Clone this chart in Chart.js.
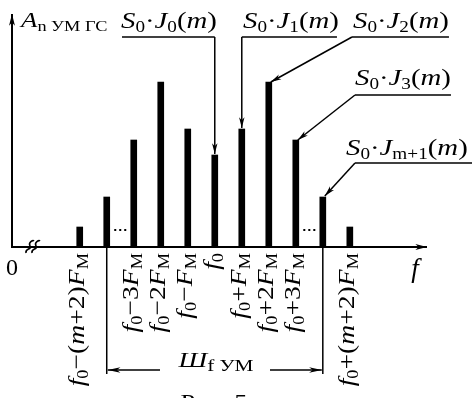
<!DOCTYPE html>
<html lang="ru">
<head>
  <meta charset="UTF-8">
  <title>Спектр УМ ГС</title>
  <style>
    html, body { margin:0; padding:0; background:#fff; }
    #chart { display:block; }
  </style>
</head>
<body>
  <canvas id="chart" width="472" height="398"></canvas>
  <script src="https://cdn.jsdelivr.net/npm/chart.js"></script>
  <script>
    // данные спектра (смещение в F_M и амплитуда в условных единицах)
    const offsets = [-5, -4, -3, -2, -1, 0, 1, 2, 3, 4, 5];
    const amplitudes = [20, 50, 107, 165, 118, 92, 118, 165, 107, 50, 20];
    const freqLabels = [
      [['f','i'],['0','s'],['−',''],['(',''],['m','i'],['+',''],['2',''],[')',''],['F','i'],['М','s']],
      null,
      [['f','i'],['0','s'],['−',''],['3',''],['F','i'],['М','s']],
      [['f','i'],['0','s'],['−',''],['2',''],['F','i'],['М','s']],
      [['f','i'],['0','s'],['−',''],['F','i'],['М','s']],
      [['f','i'],['0','s']],
      [['f','i'],['0','s'],['+',''],['F','i'],['М','s']],
      [['f','i'],['0','s'],['+',''],['2',''],['F','i'],['М','s']],
      [['f','i'],['0','s'],['+',''],['3',''],['F','i'],['М','s']],
      null,
      [['f','i'],['0','s'],['+',''],['(',''],['m','i'],['+',''],['2',''],[')',''],['F','i'],['М','s']]
    ];
    const besselNames = ['0', '1', '2', '3', 'm+1'];
    const FONT = '"Liberation Serif"';

    function sLabel(n) {
      return [['S','i'],['0','s'],['·',''],['J','i'],[n,'s'],['(',''],['m','i'],[')','']];
    }

    // рисует строку из кусков: i - курсив, s - нижний индекс; sx - растяжка по длине
    function drawRuns(ctx, parts, x, y, size, align, subSize, sx) {
      sx = sx || 1;
      let w = 0;
      const items = parts.map(([t, st]) => {
        const sub = st.includes('s');
        const fs = Math.round(sub ? (subSize || size * 0.66) : size);
        const font = (st.includes('i') ? 'italic ' : '') + fs + 'px ' + FONT;
        ctx.font = font;
        const tw = ctx.measureText(t).width;
        w += tw;
        return { t, font, tw, dy: sub ? size * 0.18 : 0 };
      });
      let cx = align === 'right' ? -w : align === 'center' ? -w / 2 : 0;
      ctx.save();
      ctx.translate(x, y);
      ctx.scale(sx, 1);
      items.forEach(it => { ctx.font = it.font; ctx.fillText(it.t, cx, it.dy); cx += it.tw; });
      ctx.restore();
      return w * sx;
    }

    function arrowHead(ctx, x1, y1, x2, y2, len, half) {
      const a = Math.atan2(y2 - y1, x2 - x1);
      ctx.beginPath();
      ctx.moveTo(x2, y2);
      ctx.lineTo(x2 - len * Math.cos(a - half), y2 - len * Math.sin(a - half));
      ctx.lineTo(x2 - len * 0.7 * Math.cos(a), y2 - len * 0.7 * Math.sin(a));
      ctx.lineTo(x2 - len * Math.cos(a + half), y2 - len * Math.sin(a + half));
      ctx.closePath();
      ctx.fill();
    }

    function arrowLine(ctx, x1, y1, x2, y2, w, len, half) {
      ctx.lineWidth = w;
      ctx.beginPath(); ctx.moveTo(x1, y1); ctx.lineTo(x2, y2); ctx.stroke();
      arrowHead(ctx, x1, y1, x2, y2, len || 11, half || 0.28);
    }

    const decor = {
      id: 'decor',
      afterDraw(chart) {
        const ctx = chart.ctx;
        const area = chart.chartArea;
        const bars = chart.getDatasetMeta(0).data;
        const y0 = chart.scales.y.getPixelForValue(0);
        ctx.save();
        ctx.fillStyle = '#000';
        ctx.strokeStyle = '#000';
        ctx.textBaseline = 'alphabetic';

        // оси
        arrowLine(ctx, area.left, y0 + 1, area.left, area.top, 2, 12, 0.25);
        arrowLine(ctx, area.left - 1, y0, area.right, y0, 2, 12, 0.25);

        // разрыв оси
        ctx.lineWidth = 1.6;
        [30, 36].forEach(bx => {
          ctx.beginPath();
          ctx.moveTo(bx - 4, y0 + 6);
          ctx.bezierCurveTo(bx - 5, y0 + 1, bx + 2, y0 + 3, bx, y0 - 1);
          ctx.bezierCurveTo(bx - 2, y0 - 5, bx + 3, y0 - 7, bx + 4, y0 - 6);
          ctx.stroke();
        });

        // многоточия
        [[1, 2], [8, 9]].forEach(([a, b]) => {
          const mid = (bars[a].x + bars[b].x) / 2;
          [-5, 0, 5].forEach(d => ctx.fillRect(mid + d - 1, y0 - 18, 2, 2));
        });

        // подписи осей
        ctx.font = '24px ' + FONT;
        ctx.textAlign = 'center';
        ctx.fillText('0', area.left, y0 + 28);
        ctx.font = 'italic 27px ' + FONT;
        ctx.fillText('f', area.right - 12, y0 + 30);
        ctx.textAlign = 'left';
        drawRuns(ctx, [['A','i'],['n УМ ГС','s']], area.left + 9, area.top + 13, 22, 'left', 15, 1.22);

        // частоты под осью
        freqLabels.forEach((lab, i) => {
          if (!lab) return;
          ctx.save();
          ctx.translate(bars[i].x + 4, y0 + 6);
          ctx.rotate(-Math.PI / 2);
          drawRuns(ctx, lab, 0, 0, 24, 'right', 16, 1.15);
          ctx.restore();
        });

        // ширина спектра
        const xl = bars[1].x, xr = bars[9].x, yb = y0 + 123;
        ctx.lineWidth = 1.5;
        ctx.beginPath();
        ctx.moveTo(xl, y0); ctx.lineTo(xl, yb + 4);
        ctx.moveTo(xr, y0); ctx.lineTo(xr, yb + 4);
        ctx.stroke();
        arrowLine(ctx, 160, yb, xl + 1, yb, 1.5, 13, 0.22);
        arrowLine(ctx, 270, yb, xr - 1, yb, 1.5, 13, 0.22);
        drawRuns(ctx, [['Ш','i'],['f УМ','s']], 216, yb - 3, 22, 'center', 17, 1.25);
        drawRuns(ctx, [['Рис. 5','']], 214, 409, 22, 'center', 0, 1.2);

        // выноски
        const tip = i => ({ x: bars[i].x, y: bars[i].y });
        const LS = 24, SX = 1.2;
        ctx.lineWidth = 1.5;
        // J0
        drawRuns(ctx, sLabel(besselNames[0]), 121, 28, LS, 'left', 0, SX);
        ctx.beginPath(); ctx.moveTo(122, 37); ctx.lineTo(tip(5).x, 37); ctx.stroke();
        arrowLine(ctx, tip(5).x, 37, tip(5).x, tip(5).y - 1, 1.5, 11, 0.25);
        // J1
        let w = drawRuns(ctx, sLabel(besselNames[1]), 243, 28, LS, 'left', 0, SX);
        ctx.beginPath(); ctx.moveTo(243 + w - 2, 37); ctx.lineTo(tip(6).x, 37); ctx.stroke();
        arrowLine(ctx, tip(6).x, 37, tip(6).x, tip(6).y - 1, 1.5, 11, 0.25);
        // J2
        w = drawRuns(ctx, sLabel(besselNames[2]), 353, 28, LS, 'left', 0, SX);
        ctx.beginPath(); ctx.moveTo(353 + w, 37); ctx.lineTo(352, 37); ctx.stroke();
        arrowLine(ctx, 352, 37, tip(7).x + 2, tip(7).y, 1.5, 11, 0.25);
        // J3
        w = drawRuns(ctx, sLabel(besselNames[3]), 355, 85, LS, 'left', 0, SX);
        ctx.beginPath(); ctx.moveTo(355 + w, 95); ctx.lineTo(355, 95); ctx.stroke();
        arrowLine(ctx, 355, 95, tip(8).x + 2, tip(8).y, 1.5, 11, 0.25);
        // Jm+1
        drawRuns(ctx, sLabel(besselNames[4]), 346, 155, LS, 'left', 0, SX);
        ctx.beginPath(); ctx.moveTo(472, 163); ctx.lineTo(355, 163); ctx.stroke();
        arrowLine(ctx, 355, 163, tip(9).x + 2, tip(9).y - 1, 1.5, 11, 0.25);

        ctx.restore();
      }
    };

    new Chart(document.getElementById('chart').getContext('2d'), {
      type: 'bar',
      data: {
        datasets: [{
          data: offsets.map((x, i) => ({ x, y: amplitudes[i] })),
          backgroundColor: '#000',
          barThickness: 6
        }]
      },
      options: {
        responsive: false,
        animation: false,
        layout: { padding: { left: 12, right: 45, top: 14, bottom: 151 } },
        plugins: { legend: { display: false }, tooltip: { enabled: false } },
        scales: {
          x: { type: 'linear', min: -6.41, max: 6.76, display: false },
          y: { min: 0, max: 233, display: false }
        }
      },
      plugins: [decor]
    });
  </script>
</body>
</html>
